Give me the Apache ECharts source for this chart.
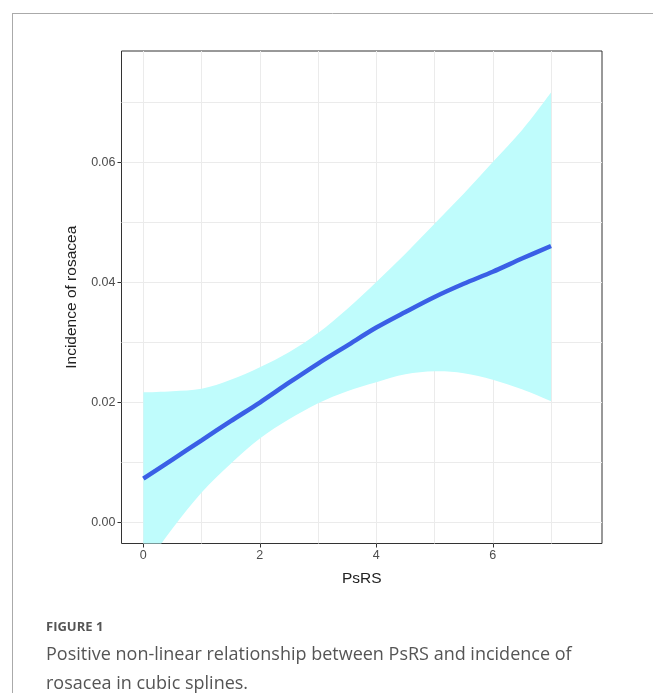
<!DOCTYPE html>
<html>
<head>
<meta charset="utf-8">
<script src="https://cdn.jsdelivr.net/npm/echarts@6/dist/echarts.min.js"></script>
<style>
html,body{margin:0;padding:0;background:#fff;}
#chart{width:653px;height:693px;}
</style>
</head>
<body>
<div id="chart"></div>
<script>
// Data
const psrs = [0, 0.5, 1, 1.5, 2, 2.5, 3, 3.5, 4, 4.5, 5, 5.5, 6, 6.5, 7];
const fitValues = [0.0073, 0.0105, 0.0137, 0.0169, 0.0200, 0.0233, 0.0265, 0.0295, 0.0325, 0.0351, 0.0376, 0.0398, 0.0418, 0.0440, 0.0461];
const upperValues = [0.0217, 0.0219, 0.0223, 0.0238, 0.0259, 0.0284, 0.0316, 0.0356, 0.0401, 0.0448, 0.0498, 0.0548, 0.0601, 0.0654, 0.0717];
const lowerValues = [-0.0078, -0.0010, 0.0050, 0.0098, 0.0140, 0.0172, 0.0199, 0.0219, 0.0234, 0.0247, 0.0252, 0.0249, 0.0238, 0.0222, 0.0202];
const xTickLabels = [0, 2, 4, 6];
const xGridValues = [0, 1, 2, 3, 4, 5, 6, 7];
const yTickLabels = [0, 0.02, 0.04, 0.06];
const yGridValues = [0, 0.01, 0.02, 0.03, 0.04, 0.05, 0.06, 0.07];
const xTitle = 'PsRS';
const yTitle = 'Incidence of rosacea';
const figureLabel = 'FIGURE 1';
const captionLines = ['Positive non-linear relationship between PsRS and incidence of', 'rosacea in cubic splines.'];

const chart = echarts.init(document.getElementById('chart'), null, {renderer: 'canvas'});

const bandData = psrs.map((x, i) => [x, lowerValues[i], upperValues[i]]);
const fitData = psrs.map((x, i) => [x, fitValues[i]]);

const XMIN = -0.375, XMAX = 7.875, YMIN = -0.0035, YMAX = 0.0786;
const gridLine = {show: true, lineStyle: {color: '#ebebeb', width: 1}};
const fontFam = '"Liberation Sans", Arial, sans-serif';

// Catmull-Rom smoothing of pixel points into SVG cubic segments (rendering only)
function smoothSegs(pts) {
  let d = '';
  for (let i = 0; i < pts.length - 1; i++) {
    const p0 = pts[Math.max(i - 1, 0)], p1 = pts[i], p2 = pts[i + 1], p3 = pts[Math.min(i + 2, pts.length - 1)];
    const c1 = [p1[0] + (p2[0] - p0[0]) / 6, p1[1] + (p2[1] - p0[1]) / 6];
    const c2 = [p2[0] - (p3[0] - p1[0]) / 6, p2[1] - (p3[1] - p1[1]) / 6];
    d += ' C' + c1[0].toFixed(2) + ' ' + c1[1].toFixed(2) + ' ' + c2[0].toFixed(2) + ' ' + c2[1].toFixed(2) + ' ' + p2[0].toFixed(2) + ' ' + p2[1].toFixed(2);
  }
  return d;
}

function renderBand(params, api) {
  if (params.dataIndex !== 0) return null;
  const upperPts = bandData.map(d => api.coord([d[0], d[2]]));
  const lowerPts = bandData.map(d => api.coord([d[0], d[1]])).reverse();
  const cs = params.coordSys;
  let path = 'M' + upperPts[0][0].toFixed(2) + ' ' + upperPts[0][1].toFixed(2) + smoothSegs(upperPts);
  path += ' L' + lowerPts[0][0].toFixed(2) + ' ' + lowerPts[0][1].toFixed(2) + smoothSegs(lowerPts) + ' Z';
  return {
    type: 'path',
    shape: {pathData: path},
    style: {fill: '#bffcfc', stroke: null},
    clipPath: {type: 'rect', shape: {x: cs.x, y: cs.y, width: cs.width, height: cs.height}},
    silent: true
  };
}

const option = {
  animation: false,
  backgroundColor: '#fff',
  grid: {left: 121.5, right: 51, top: 51, bottom: 149.5, show: true, borderColor: '#333', borderWidth: 1, backgroundColor: 'transparent'},
  xAxis: [
    {
      type: 'value', min: XMIN, max: XMAX, position: 'bottom',
      axisLine: {show: false, onZero: false},
      axisTick: {show: true, length: 4, lineStyle: {color: '#333'}, customValues: xTickLabels},
      axisLabel: {show: true, color: '#4d4d4d', fontSize: 12.5, fontFamily: fontFam, margin: 6, customValues: xTickLabels, formatter: v => String(v)},
      splitLine: {show: false},
      name: xTitle, nameLocation: 'middle', nameGap: 27,
      nameTextStyle: {color: '#222', fontSize: 15.5, fontFamily: fontFam}
    },
    {
      type: 'value', min: XMIN, max: XMAX, position: 'bottom',
      axisLine: {show: false, onZero: false},
      axisTick: {show: false, customValues: xGridValues},
      axisLabel: {show: false, customValues: xGridValues},
      splitLine: gridLine
    }
  ],
  yAxis: [
    {
      type: 'value', min: YMIN, max: YMAX, position: 'left',
      axisLine: {show: false, onZero: false},
      axisTick: {show: true, length: 4, lineStyle: {color: '#333'}, customValues: yTickLabels},
      axisLabel: {show: true, color: '#4d4d4d', fontSize: 12.5, fontFamily: fontFam, margin: 6, customValues: yTickLabels, formatter: v => v.toFixed(2)},
      splitLine: {show: false},
      name: yTitle, nameLocation: 'middle', nameGap: 42, nameRotate: 90,
      nameTextStyle: {color: '#222', fontSize: 15.5, fontFamily: fontFam}
    },
    {
      type: 'value', min: YMIN, max: YMAX, position: 'left',
      axisLine: {show: false, onZero: false},
      axisTick: {show: false, customValues: yGridValues},
      axisLabel: {show: false, customValues: yGridValues},
      splitLine: gridLine
    }
  ],
  series: [
    {
      type: 'custom', data: bandData, renderItem: renderBand,
      encode: {x: 0, y: [1, 2]}, z: 2, silent: true
    },
    {
      type: 'line', data: fitData, smooth: 0.3, symbol: 'none',
      lineStyle: {color: '#3a5fe6', width: 4.5}, z: 3
    }
  ],
  graphic: [
    {type: 'line', shape: {x1: 12, y1: 13.5, x2: 653, y2: 13.5}, style: {stroke: '#aaa', lineWidth: 1}},
    {type: 'line', shape: {x1: 12.5, y1: 13, x2: 12.5, y2: 693}, style: {stroke: '#aaa', lineWidth: 1}},
    {type: 'text', left: 46, top: 621, style: {text: figureLabel, fill: '#555', fontSize: 13, fontWeight: 'bold', fontFamily: '"Open Sans", sans-serif'}},
    {type: 'text', left: 46, top: 646, style: {text: captionLines[0], fill: '#555', fontSize: 18, fontFamily: '"Open Sans", sans-serif'}},
    {type: 'text', left: 46, top: 675, style: {text: captionLines[1], fill: '#555', fontSize: 18, fontFamily: '"Open Sans", sans-serif'}}
  ]
};
chart.setOption(option);
</script>
</body>
</html>
